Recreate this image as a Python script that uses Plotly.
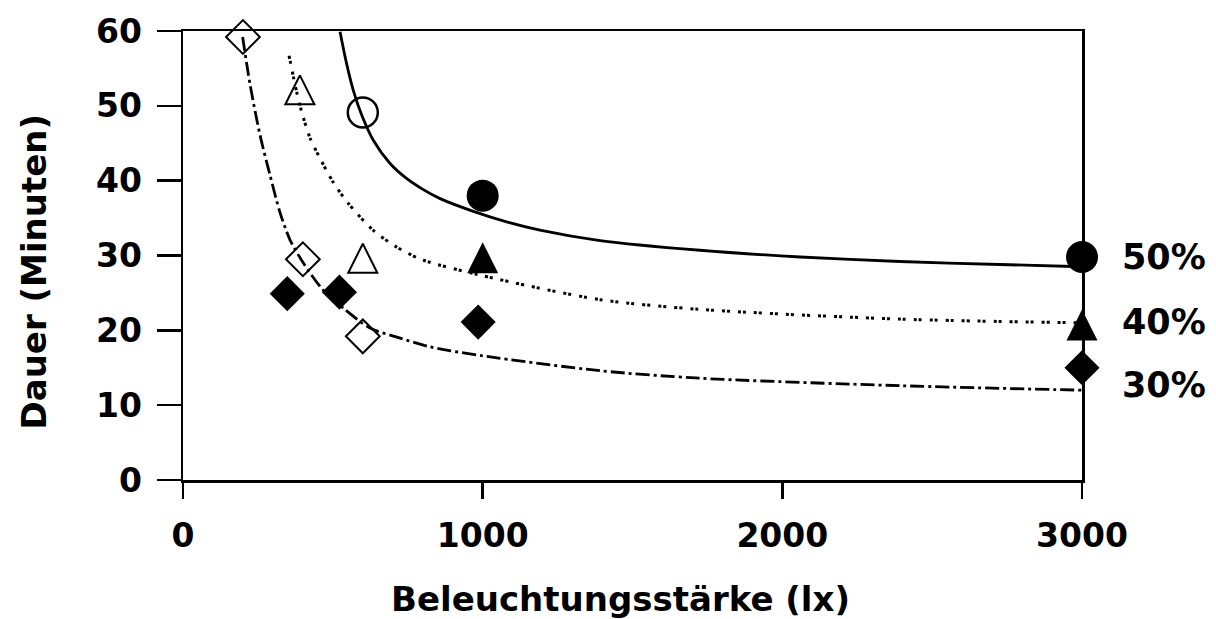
import plotly.graph_objects as go

# ---- data (lux, minutes) ----
# fitted trend curves
curve50_x = [524, 545, 568, 596, 635, 691, 746, 802, 858, 969, 1080, 1191, 1392, 1725, 2060, 2393, 2726, 3000]
curve50_y = [59.9, 55.8, 52.1, 48.8, 45.4, 42.3, 40.3, 38.8, 37.6, 35.9, 34.5, 33.4, 32.0, 30.7, 29.8, 29.2, 28.8, 28.5]
curve40_x = [354, 379, 396, 424, 457, 501, 551, 634, 714, 801, 1000, 1392, 1725, 2393, 3000]
curve40_y = [56.7, 51.9, 49.2, 45.7, 43.0, 39.8, 37.0, 33.4, 31.1, 29.4, 27.3, 24.1, 22.8, 21.5, 21.0]
curve30_x = [199, 224, 257, 290, 324, 357, 400, 467, 534, 624, 714, 824, 1000, 1392, 1725, 2393, 3000]
curve30_y = [59.2, 52.8, 46.1, 40.8, 35.7, 32.1, 29.1, 25.4, 23.0, 20.3, 19.1, 17.8, 16.6, 14.6, 13.6, 12.6, 12.0]

# measured points
circ_filled_x = [1000, 3000]
circ_filled_y = [38.0, 29.8]
circ_open_x = [600]
circ_open_y = [49.1]
tri_filled_x = [360, 1000, 3000]
tri_filled_y = [59.6, 29.7, 20.7]
tri_open_x = [390, 600]
tri_open_y = [52.0, 29.5]
dia_filled_x = [348, 522, 985, 3000]
dia_filled_y = [24.9, 25.1, 21.1, 15.0]
dia_open_x = [200, 400, 600]
dia_open_y = [59.2, 29.5, 19.2]

# series labels at the right
labels = ["50%", "40%", "30%"]
label_y = [29.8, 21.1, 12.7]

x_ticks = [0, 1000, 2000, 3000]
y_ticks = [0, 10, 20, 30, 40, 50, 60]

# ---- layout geometry ----
W, H = 1216, 619
ML, MR, MT, MB = 183, 134, 31, 139
plot_h = H - MT - MB
y_range = [0, 60]
tri_size = 31
tri_off = (tri_size / 2) / (plot_h / (y_range[1] - y_range[0]))

FONT = "DejaVu Sans"
fig = go.Figure()

fig.add_trace(go.Scatter(x=curve50_x, y=curve50_y, mode="lines",
                         line=dict(color="black", width=2.8, shape="spline", smoothing=0.8),
                         hoverinfo="skip"))
fig.add_trace(go.Scatter(x=curve40_x, y=curve40_y, mode="lines",
                         line=dict(color="black", width=3, shape="spline", smoothing=0.8,
                                   dash="3px,2px,3px,8px"),
                         hoverinfo="skip"))
fig.add_trace(go.Scatter(x=curve30_x, y=curve30_y, mode="lines",
                         line=dict(color="black", width=2.8, shape="spline", smoothing=0.8,
                                   dash="14px,4px,3px,4px"),
                         hoverinfo="skip"))

fig.add_trace(go.Scatter(x=circ_filled_x, y=circ_filled_y, mode="markers",
                         marker=dict(symbol="circle", size=32, color="black", line=dict(width=0)),
                         cliponaxis=False))
fig.add_trace(go.Scatter(x=circ_open_x, y=circ_open_y, mode="markers",
                         marker=dict(symbol="circle-open", size=30, color="black", line=dict(width=2.5)),
                         cliponaxis=False))
fig.add_trace(go.Scatter(x=dia_filled_x, y=dia_filled_y, mode="markers",
                         marker=dict(symbol="diamond", size=27, color="black", line=dict(width=0)),
                         cliponaxis=False))
fig.add_trace(go.Scatter(x=dia_open_x, y=dia_open_y, mode="markers",
                         marker=dict(symbol="diamond-open", size=26, color="black", line=dict(width=2)),
                         cliponaxis=False))
fig.add_trace(go.Scatter(x=tri_filled_x, y=tri_filled_y, mode="markers", yaxis="y2",
                         marker=dict(symbol="arrow-up", size=tri_size, color="black", line=dict(width=0)),
                         cliponaxis=False))
fig.add_trace(go.Scatter(x=tri_open_x, y=tri_open_y, mode="markers", yaxis="y2",
                         marker=dict(symbol="arrow-up-open", size=tri_size - 2, color="black",
                                     line=dict(width=2)),
                         cliponaxis=False))

for txt, yv in zip(labels, label_y):
    fig.add_annotation(x=3000, y=yv, xref="x", yref="y", text=txt, showarrow=False,
                       xanchor="left", yanchor="middle", xshift=38,
                       font=dict(family=FONT, size=35, color="black", weight="bold"))

fig.add_annotation(x=-0.1657, y=0.4644, xref="paper", yref="paper", text="Dauer (Minuten)",
                   textangle=-90, showarrow=False, xanchor="center", yanchor="middle",
                   font=dict(family=FONT, size=34, color="black", weight="bold"))
fig.add_annotation(x=0.4867, y=-0.265, xref="paper", yref="paper", text="Beleuchtungsstärke (lx)",
                   showarrow=False, xanchor="center", yanchor="middle",
                   font=dict(family=FONT, size=34, color="black", weight="bold"))

axis_common = dict(showgrid=False, zeroline=False, showline=True, linecolor="black",
                   linewidth=2.5, mirror=True, ticks="outside", tickcolor="black",
                   tickwidth=2.5,
                   tickfont=dict(family=FONT, size=33, color="black", weight="bold"))

fig.update_layout(
    width=W, height=H, margin=dict(l=ML, r=MR, t=MT, b=MB),
    paper_bgcolor="white", plot_bgcolor="white", showlegend=False,
    xaxis=dict(range=[0, 3000], tickvals=x_ticks, ticktext=[str(v) for v in x_ticks],
               ticklen=16, ticklabelstandoff=9, **axis_common),
    yaxis=dict(range=y_range, tickvals=y_ticks, ticktext=[str(v) for v in y_ticks],
               ticklen=24, ticklabelstandoff=8, **axis_common),
    yaxis2=dict(range=[y_range[0] - tri_off, y_range[1] - tri_off], overlaying="y",
                visible=False, showgrid=False, zeroline=False),
)

fig.write_html("out.html", config={"displayModeBar": False, "staticPlot": True},
               post_script="document.body.style.margin='0';document.body.style.overflow='hidden';")
